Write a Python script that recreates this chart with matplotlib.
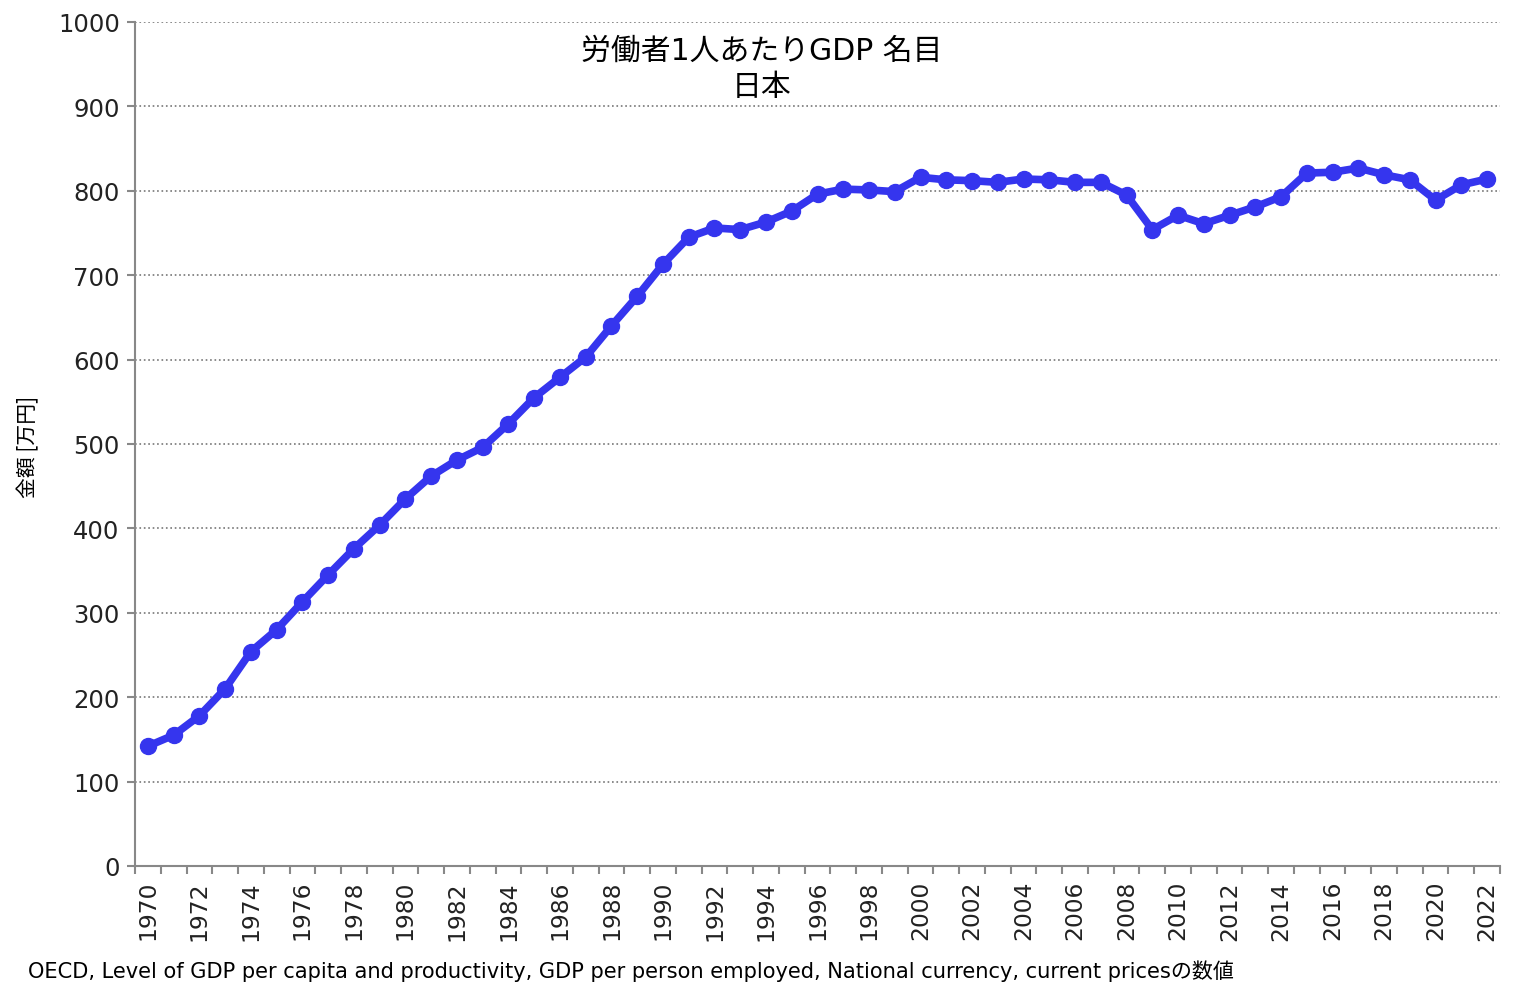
import numpy as np
import matplotlib.pyplot as plt
from matplotlib.ticker import MultipleLocator

plt.rcParams['font.family'] = ['DejaVu Sans', 'Noto Sans CJK JP']

years = list(range(1970, 2023))
gdp = [142, 155, 178, 210, 254, 280, 313, 345, 376, 404,
       435, 462, 481, 496, 524, 555, 579, 603, 640, 675,
       713, 745, 756, 754, 763, 776, 796, 802, 801, 799,
       816, 813, 812, 810, 814, 813, 810, 810, 795, 754,
       771, 761, 771, 781, 793, 821, 822, 827, 819, 813,
       789, 807, 814]

title1 = "労働者1人あたりGDP 名目"
title2 = "日本"
ylabel = "金額 [万円]"
source = "OECD, Level of GDP per capita and productivity, GDP per person employed, National currency, current pricesの数値"

fig = plt.figure(figsize=(15.24, 9.95), dpi=100)
ax = fig.add_axes([135 / 1524, 128 / 995, 1365 / 1524, 844 / 995])

ax.plot(years, gdp, color='#3535ee', lw=5.5, marker='o', ms=11.5, zorder=3)

ax.set_xlim(1969.5, 2022.5)
ax.set_ylim(0, 1000)
ax.yaxis.set_major_locator(MultipleLocator(100))
ax.set_xticks(years[::2])
ax.set_xticks(np.arange(1969.5, 2023, 1), minor=True)
ax.tick_params(axis='x', which='major', length=0, rotation=90, labelsize=16.8, pad=10)
ax.tick_params(axis='x', which='minor', length=6, color='#888888', width=1.5)
ax.tick_params(axis='y', length=6, color='#888888', width=1.5, labelsize=17.5, pad=5)
for lab in ax.get_xticklabels() + ax.get_yticklabels():
    lab.set_color('#222222')

ax.grid(axis='y', ls=':', color='#777777', lw=1.2)
ax.set_axisbelow(True)
for s in ['top', 'right']:
    ax.spines[s].set_visible(False)
for s in ['left', 'bottom']:
    ax.spines[s].set_color('#888888')
    ax.spines[s].set_linewidth(1.5)

fig.text(28 / 1524, 1 - 447 / 995, ylabel, rotation=90, ha='center', va='center',
         fontsize=15, family=['Noto Sans CJK JP', 'DejaVu Sans'])

fig.text(762 / 1524, 1 - 51 / 995, title1, ha='center', va='center', fontsize=21.5)
fig.text(762 / 1524, 1 - 88 / 995, title2, ha='center', va='center', fontsize=21.5)
fig.text(28 / 1524, 1 - 971 / 995, source, ha='left', va='center', fontsize=15.1)

fig.savefig('out.png', dpi=100)
